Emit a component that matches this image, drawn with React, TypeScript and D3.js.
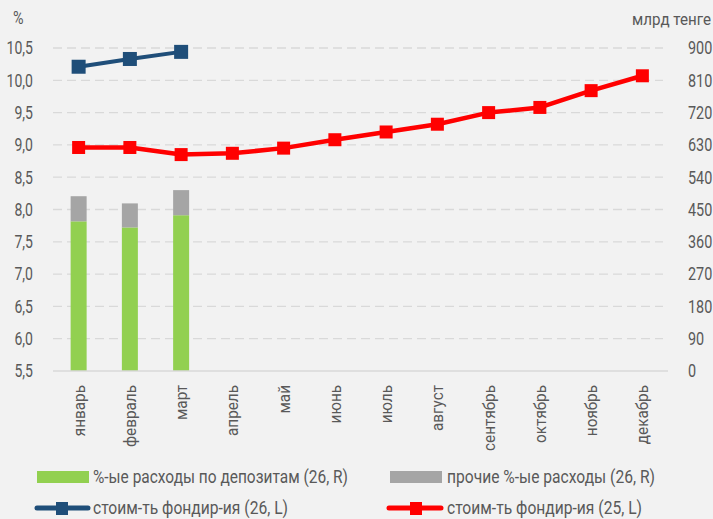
import React from "react";
import * as d3 from "d3";

const months = ["январь","февраль","март","апрель","май","июнь","июль","август","сентябрь","октябрь","ноябрь","декабрь"];
const depositExp26 = [417, 400, 434];
const otherExp26 = [70, 67, 70];
const funding26 = [10.21, 10.33, 10.44];
const funding25 = [8.96, 8.96, 8.85, 8.87, 8.95, 9.08, 9.2, 9.32, 9.5, 9.58, 9.84, 10.07];
const leftTicks = [5.5, 6.0, 6.5, 7.0, 7.5, 8.0, 8.5, 9.0, 9.5, 10.0, 10.5];
const rightTicks = [0, 90, 180, 270, 360, 450, 540, 630, 720, 810, 900];
const legendLabels = ["%-ые расходы по депозитам (26, R)", "прочие %-ые расходы (26, R)", "стоим-ть фондир-ия (26, L)", "стоим-ть фондир-ия (25, L)"];

const FONT = "Roboto, 'DejaVu Sans Condensed', sans-serif";
const TXT = "#595959";

function T(props: { x: number; y: number; size: number; sx: number; anchor?: string; rot?: number; children: React.ReactNode; len?: number }) {
  const { x, y, size, sx, anchor = "start", rot = 0, children, len } = props;
  return (
    <g transform={`translate(${x},${y}) rotate(${rot}) scale(${sx},1)`}>
      <text x={0} y={0} dy="0.35em" textAnchor={anchor} fontSize={size} fill={TXT}
        {...(len ? { textLength: len / sx, lengthAdjust: "spacingAndGlyphs" } : {})}>{children}</text>
    </g>
  );
}

export default function App() {
  const W = 713, H = 519;
  const x0 = 53, x1 = 668, yTop = 48, yBot = 371;
  const x = d3.scaleBand<string>().domain(months).range([x0, x1]);
  const yL = d3.scaleLinear().domain([5.5, 10.5]).range([yBot, yTop]);
  const yR = d3.scaleLinear().domain([0, 900]).range([yBot, yTop]);
  const cx = (m: string) => (x(m) as number) + x.bandwidth() / 2;
  const line = d3.line<number>().x((_, i) => cx(months[i])).y((d) => yL(d));
  const bw = 16;
  const fmt = (v: number) => v.toFixed(1).replace(".", ",");

  return (
    <svg width={W} height={H} style={{ position: "absolute", left: 0, top: 0, background: "#F2F2F2" }} fontFamily={FONT}>
      <rect x={0} y={0} width={W} height={H} fill="#F2F2F2" />
      {leftTicks.slice(1).map((t) => (
        <line key={t} x1={x0} x2={x1 - 5} y1={yL(t)} y2={yL(t)} stroke="#D9D9D9" strokeWidth={1.3} strokeDasharray="9,5" />
      ))}
      {leftTicks.map((t) => (
        <T key={t} x={33} y={yL(t)} size={18} sx={0.78} anchor="end">{fmt(t)}</T>
      ))}
      {rightTicks.map((t) => (
        <T key={t} x={688} y={yR(t)} size={18} sx={0.8}>{t}</T>
      ))}
      <T x={13} y={18} size={18} sx={0.8}>%</T>
      <T x={632} y={19} size={17} sx={0.8} len={79}>млрд тенге</T>
      {depositExp26.map((v, i) => (
        <g key={i}>
          <rect x={cx(months[i]) - bw / 2} y={yR(v)} width={bw} height={yR(0) - yR(v)} fill="#92D050" />
          <rect x={cx(months[i]) - bw / 2} y={yR(v + otherExp26[i])} width={bw} height={yR(v) - yR(v + otherExp26[i])} fill="#A5A5A5" />
        </g>
      ))}
      <line x1={x0} x2={x1} y1={yBot} y2={yBot} stroke="#D9D9D9" strokeWidth={1.3} />
      <path d={line(funding25) || ""} fill="none" stroke="#FF0000" strokeWidth={4.5} strokeLinejoin="round" />
      {funding25.map((v, i) => (
        <rect key={i} x={cx(months[i]) - 6.5} y={yL(v) - 6.5} width={13} height={13} fill="#FF0000" />
      ))}
      <path d={line(funding26) || ""} fill="none" stroke="#1F4E79" strokeWidth={4} strokeLinejoin="round" />
      {funding26.map((v, i) => (
        <rect key={i} x={cx(months[i]) - 7} y={yL(v) - 7} width={14} height={14} fill="#1F4E79" />
      ))}
      {months.map((m) => (
        <T key={m} x={cx(m)} y={385} rot={-90} size={17} sx={0.9} anchor="end">{m}</T>
      ))}
      {/* legend */}
      <rect x={37} y={471} width={52} height={12} fill="#92D050" />
      <T x={93} y={477} size={18} sx={0.78} len={255}>{legendLabels[0]}</T>
      <rect x={390} y={471} width={52} height={12} fill="#A5A5A5" />
      <T x={447} y={477} size={18} sx={0.78} len={208}>{legendLabels[1]}</T>
      <line x1={37} x2={88} y1={508} y2={508} stroke="#1F4E79" strokeWidth={5} strokeLinecap="round" />
      <rect x={56} y={502} width={12} height={13} fill="#1F4E79" />
      <T x={93} y={508} size={18} sx={0.78} len={195}>{legendLabels[2]}</T>
      <line x1={389} x2={441} y1={508} y2={508} stroke="#FF0000" strokeWidth={5} strokeLinecap="round" />
      <rect x={410} y={502} width={12} height={13} fill="#FF0000" />
      <T x={447} y={508} size={18} sx={0.78} len={195}>{legendLabels[3]}</T>
    </svg>
  );
}
